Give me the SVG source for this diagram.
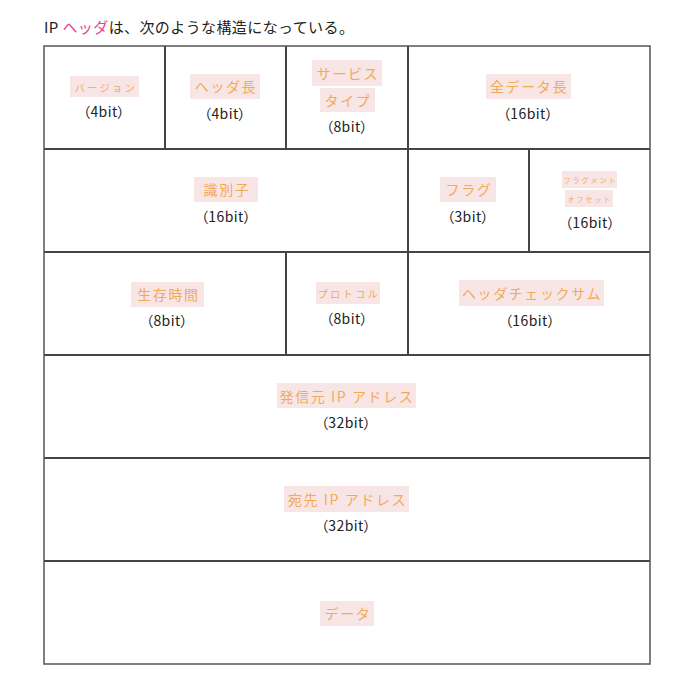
<svg xmlns="http://www.w3.org/2000/svg" width="700" height="700" viewBox="0 0 700 700">
<style>
text{font-family:"Noto Sans CJK JP","Noto Sans",sans-serif;}
.title{font-size:15px;fill:#222;letter-spacing:0.4px;}
.hl{fill:#e0439a;}
.lb{fill:#f2ab55;font-size:14px;letter-spacing:1.6px;text-anchor:middle;dominant-baseline:central;}
.sm{font-size:10px;letter-spacing:2.5px;}
.xs{font-size:7px;letter-spacing:2px;}
.bg{fill:#f8e5e5;}
.bit{fill:#222;font-size:14px;letter-spacing:0.4px;text-anchor:middle;dominant-baseline:central;font-feature-settings:"palt";}
.cell{fill:#fff;stroke:#444;stroke-width:2;}
.outer{fill:none;stroke:#555;stroke-width:1.5;}
</style>
<rect width="700" height="700" fill="#fff"/>
<text class="title" x="44" y="33">IP <tspan class="hl">ヘッダ</tspan>は、次のような構造になっている。</text>
<g id="lines">
<line class="cell" x1="44" y1="149" x2="650" y2="149"/>
<line class="cell" x1="44" y1="252" x2="650" y2="252"/>
<line class="cell" x1="44" y1="355" x2="650" y2="355"/>
<line class="cell" x1="44" y1="458" x2="650" y2="458"/>
<line class="cell" x1="44" y1="561" x2="650" y2="561"/>
<line class="cell" x1="165" y1="46" x2="165" y2="149"/>
<line class="cell" x1="286" y1="46" x2="286" y2="149"/>
<line class="cell" x1="408" y1="46" x2="408" y2="355"/>
<line class="cell" x1="529" y1="149" x2="529" y2="252"/>
<line class="cell" x1="286" y1="252" x2="286" y2="355"/>
<rect class="outer" x="44" y="46" width="606" height="618"/>
</g>
<g id="version">
<rect class="bg" x="70" y="76" width="69" height="21"/>
<text class="lb sm" x="106" y="87">バージョン</text>
<text class="bit" x="104" y="111">（4bit）</text>
</g>
<g id="hlen">
<rect class="bg" x="190" y="74" width="70" height="25"/>
<text class="lb" x="226" y="86">ヘッダ長</text>
<text class="bit" x="225" y="113">（4bit）</text>
</g>
<g id="tos">
<rect class="bg" x="312" y="60" width="70" height="26"/>
<text class="lb" x="348" y="73">サービス</text>
<rect class="bg" x="320" y="88" width="55" height="24"/>
<text class="lb" x="348" y="100">タイプ</text>
<text class="bit" x="347" y="126">（8bit）</text>
</g>
<g id="total">
<rect class="bg" x="486" y="74" width="85" height="25"/>
<text class="lb" x="529" y="86">全データ長</text>
<text class="bit" x="528" y="113">（16bit）</text>
</g>
<g id="ident">
<rect class="bg" x="194" y="177" width="64" height="25"/>
<text class="lb" x="227" y="189">識別子</text>
<text class="bit" x="226" y="216">（16bit）</text>
</g>
<g id="flag">
<rect class="bg" x="440" y="177" width="56" height="25"/>
<text class="lb" x="469" y="189">フラグ</text>
<text class="bit" x="468" y="216">（3bit）</text>
</g>
<g id="frag">
<rect class="bg" x="562" y="171" width="55" height="17"/>
<text class="lb xs" x="590.5" y="179.5">フラグメント</text>
<rect class="bg" x="565" y="190" width="48" height="17"/>
<text class="lb xs" x="590" y="198.5">オフセット</text>
<text class="bit" x="590" y="222">（16bit）</text>
</g>
<g id="ttl">
<rect class="bg" x="131" y="282" width="73" height="25"/>
<text class="lb" x="168.5" y="294">生存時間</text>
<text class="bit" x="167" y="320">（8bit）</text>
</g>
<g id="proto">
<rect class="bg" x="316" y="282" width="64" height="22"/>
<text class="lb sm" x="349" y="293">プロトコル</text>
<text class="bit" x="347" y="318">（8bit）</text>
</g>
<g id="checksum">
<rect class="bg" x="459" y="280" width="145" height="26"/>
<text class="lb" x="532" y="293">ヘッダチェックサム</text>
<text class="bit" x="530" y="320">（16bit）</text>
</g>
<g id="src">
<rect class="bg" x="277" y="383" width="139" height="25"/>
<text class="lb" x="347" y="396">発信元 IP アドレス</text>
<text class="bit" x="346" y="422">（32bit）</text>
</g>
<g id="dst">
<rect class="bg" x="284" y="486" width="125" height="26"/>
<text class="lb" x="347.5" y="499">宛先 IP アドレス</text>
<text class="bit" x="346" y="525">（32bit）</text>
</g>
<g id="data">
<rect class="bg" x="320" y="601" width="54" height="25"/>
<text class="lb" x="348" y="613">データ</text>
</g>
</svg>
